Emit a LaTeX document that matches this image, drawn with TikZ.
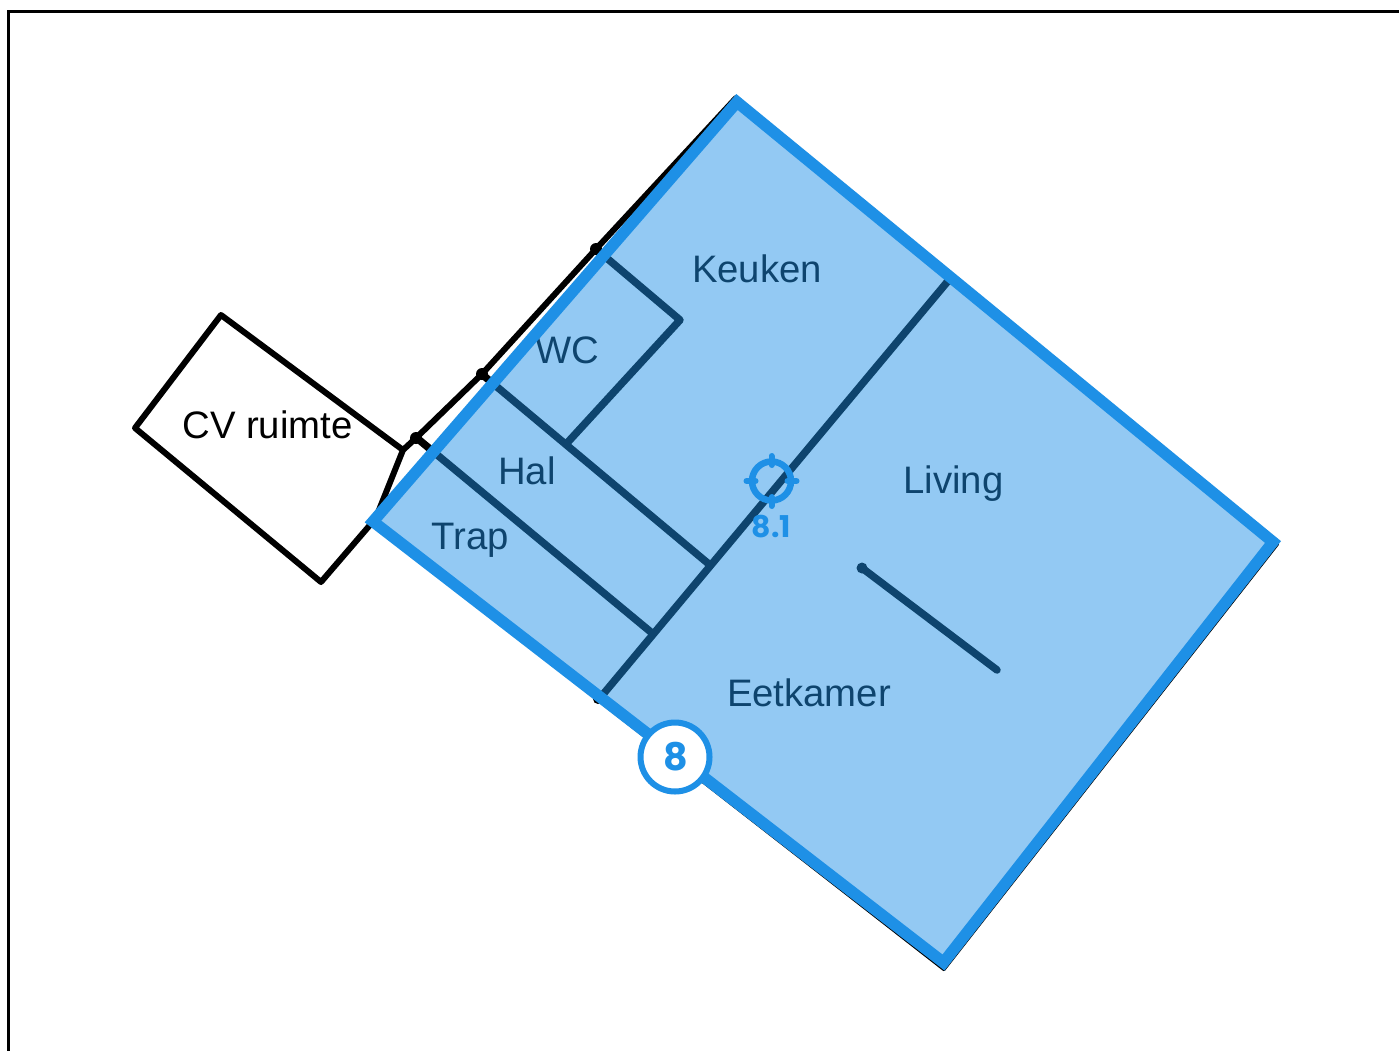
\documentclass[tikz,border=0pt]{standalone}
\usepackage{fontspec}
\setmainfont{Liberation Sans}
\newfontfamily\badgefont{Poppins}
\definecolor{zoneblue}{HTML}{1E90E6}
\tikzset{
  wall/.style={draw=black,line width=6pt,line join=round,line cap=round},
  inner/.style={draw=black,line width=7.5pt,line join=round,line cap=round},
  room/.style={font=\fontsize{38.3}{38}\selectfont,text=black,inner sep=0pt},
  zone/.style={fill=zoneblue,fill opacity=.48,draw=none},
  zoneedge/.style={draw=zoneblue,line width=11.5pt,line join=miter},
  enddot/.style={circle,fill=black,inner sep=0pt,minimum size=12pt},
  tick/.style={draw=zoneblue,line width=6pt,line cap=round}
}
\begin{document}
\begin{tikzpicture}[x=1pt,y=-1pt]
\useasboundingbox (0,0) rectangle (1399,1050);
\fill[white] (0,0) rectangle (1399,1050);
\draw[black,line width=3.6pt] (8.5,1052) -- (8.5,11.5) -- (1401,11.5);
% corners of the main floor
\coordinate (N) at (737,102);
\coordinate (E) at (1273,542);
\coordinate (S) at (943.5,962.5);
\coordinate (W) at (373,521.5);
% outer walls
\coordinate (top) at (736,98);
\coordinate (p1) at (596,249);
\coordinate (p2) at (482,374);
\coordinate (p3) at (416,438);
\coordinate (p4) at (403,450);
\coordinate (p5) at (379,510);
\coordinate (c1) at (221,315);
\coordinate (c2) at (135,428);
\coordinate (c3) at (321,582);
\draw[wall] (top) -- (p1) -- (p2) -- (p3) -- (p4) -- (p5) -- (W) -- (c3) -- (c2) -- (c1) -- (p4);
\draw[wall,line width=2.5pt] (W) -- (600,702) -- (944,970) -- (1278,544) -- (top);
\node[enddot] (d1) at (p1) {};
\node[enddot] (d2) at (p2) {};
\node[enddot] (d3) at (p3) {};
% inner walls
\coordinate (a1) at (948,281);
\coordinate (a2) at (600,698);
\coordinate (w1) at (602,256);
\coordinate (w2) at (680,320);
\coordinate (w3) at (568,442);
\coordinate (h1) at (484,376);
\coordinate (h2) at (710,565);
\coordinate (t1) at (418,439);
\coordinate (t2) at (652,633);
\coordinate (f1) at (862,568);
\coordinate (f2) at (997,670);
\draw[inner] (a1) -- (a2);
\draw[inner] (d1) -- (w2) -- (w3);
\draw[inner] (h1) -- (h2);
\draw[inner] (t1) -- (t2);
\draw[inner] (f1) -- (f2);
\node[enddot,minimum size=11pt] (d4) at (f1) {};
\node[enddot,minimum size=9pt] (d5) at (a1) {};
\node[enddot,minimum size=10pt] (d6) at (598,699) {};
% labels
\node[room] (cv) at (267.5,425) {CV ruimte};
\node[room] (keuken) at (757,269) {Keuken};
\node[room] (wc) at (567,350) {WC};
\node[room] (hal) at (527,471) {Hal};
\node[room] (trap) at (470,540) {Trap};
\node[room] (living) at (953.5,484) {Living};
\node[room] (eetkamer) at (809,693) {Eetkamer};
% zone
\path[zone] (N) -- (E) -- (S) -- (W) -- cycle;
\draw[zoneedge] (N) -- (E) -- (S) -- (W) -- cycle;
% marker
\coordinate (m) at (771.5,481);
\draw[zoneblue,line width=6.5pt] (m) circle (19.5);
\draw[tick] (771.5,456) -- (771.5,465);
\draw[tick] (771.5,497) -- (771.5,506);
\draw[tick] (746.5,481) -- (755.5,481);
\draw[tick] (787.5,481) -- (796.5,481);
\node[font=\badgefont\bfseries\fontsize{30}{30}\selectfont,text=zoneblue,inner sep=0pt] (lab) at (771.5,526.5) {8.1};
\node[circle,draw=zoneblue,fill=white,line width=6pt,minimum size=69pt,inner sep=0pt] (badge) at (675,757) {};
\node[font=\badgefont\bfseries\fontsize{38}{38}\selectfont,text=zoneblue,inner sep=0pt] (badgenum) at (676,757) {8};
\end{tikzpicture}
\end{document}
